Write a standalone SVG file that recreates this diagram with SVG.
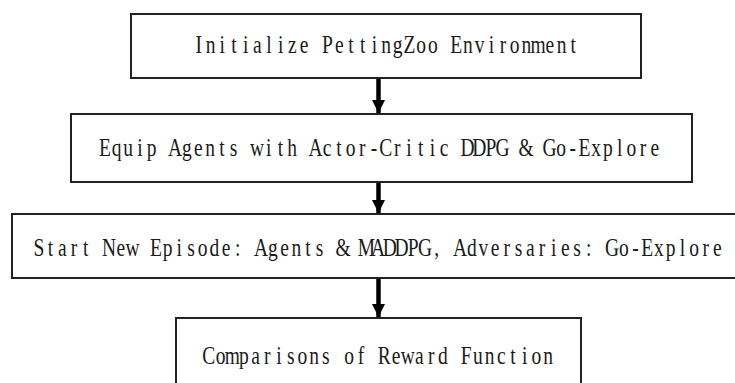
<svg xmlns="http://www.w3.org/2000/svg" width="735" height="383" viewBox="0 0 735 383">
  <style>
    .box { fill: #ffffff; stroke: #222222; stroke-width: 2; }
    .label { font-family: "Liberation Serif", "DejaVu Serif", serif; font-size: 26px; fill: #1a1a1a; text-anchor: middle; }
    .flow { stroke: #000000; stroke-width: 4.5; fill: none; }
  </style>
  <defs>
    <marker id="arrowhead" markerUnits="userSpaceOnUse" markerWidth="14" markerHeight="13" refX="13" refY="6.5" orient="auto">
      <path d="M0,0 L13,6.5 L0,13 Z" fill="#000000"/>
    </marker>
  </defs>
  <rect width="735" height="383" fill="#ffffff"/>

  <!-- labels are set on a fixed 11.7px character grid, condensed horizontally -->
  <g id="init-env">
    <rect class="box" x="131" y="14" width="510" height="64"/>
    <g transform="translate(193,0) scale(0.75,1)">
      <text class="label" y="53" x="7.8 23.4 39 54.6 70.2 85.8 101.4 117 132.6 148.2 163.8 179.4 195 210.6 226.2 241.8 257.4 273 288.6 304.2 319.8 335.4 351 366.6 382.2 397.8 413.4 429 444.6 460.2 475.8 491.4 507">Initialize PettingZoo Environment</text>
    </g>
  </g>

  <g id="equip-agents">
    <rect class="box" x="71" y="114" width="621" height="68"/>
    <g transform="translate(99,0) scale(0.75,1)">
      <text class="label" y="156" x="7.8 23.4 39 54.6 70.2 85.8 101.4 117 132.6 148.2 163.8 179.4 195 210.6 226.2 241.8 257.4 273 288.6 304.2 319.8 335.4 351 366.6 382.2 397.8 413.4 429 444.6 460.2 475.8 491.4 507 522.6 538.2 553.8 569.4 585 600.6 616.2 631.8 647.4 663 678.6 694.2 709.8 725.4 741">Equip Agents with Actor-Critic DDPG &amp; Go-Explore</text>
    </g>
  </g>

  <g id="new-episode">
    <rect class="box" x="12" y="214" width="740" height="64"/>
    <g transform="translate(33,0) scale(0.75,1)">
      <text class="label" y="256" x="7.8 23.4 39 54.6 70.2 85.8 101.4 117 132.6 148.2 163.8 179.4 195 210.6 226.2 241.8 257.4 273 288.6 304.2 319.8 335.4 351 366.6 382.2 397.8 413.4 429 444.6 460.2 475.8 491.4 507 522.6 538.2 553.8 569.4 585 600.6 616.2 631.8 647.4 663 678.6 694.2 709.8 725.4 741 756.6 772.2 787.8 803.4 819 834.6 850.2 865.8 881.4 897 912.6">Start New Episode: Agents &amp; MADDPG, Adversaries: Go-Explore</text>
    </g>
  </g>

  <g id="reward-comparison">
    <rect class="box" x="176" y="318" width="405" height="80"/>
    <g transform="translate(203,0) scale(0.75,1)">
      <text class="label" y="364" x="7.8 23.4 39 54.6 70.2 85.8 101.4 117 132.6 148.2 163.8 179.4 195 210.6 226.2 241.8 257.4 273 288.6 304.2 319.8 335.4 351 366.6 382.2 397.8 413.4 429 444.6 460.2">Comparisons of Reward Function</text>
    </g>
  </g>

  <g id="connectors">
    <line class="flow" x1="378.5" y1="79" x2="378.5" y2="113" marker-end="url(#arrowhead)"/>
    <line class="flow" x1="378.5" y1="183" x2="378.5" y2="213" marker-end="url(#arrowhead)"/>
    <line class="flow" x1="378.5" y1="279" x2="378.5" y2="317" marker-end="url(#arrowhead)"/>
  </g>
</svg>
